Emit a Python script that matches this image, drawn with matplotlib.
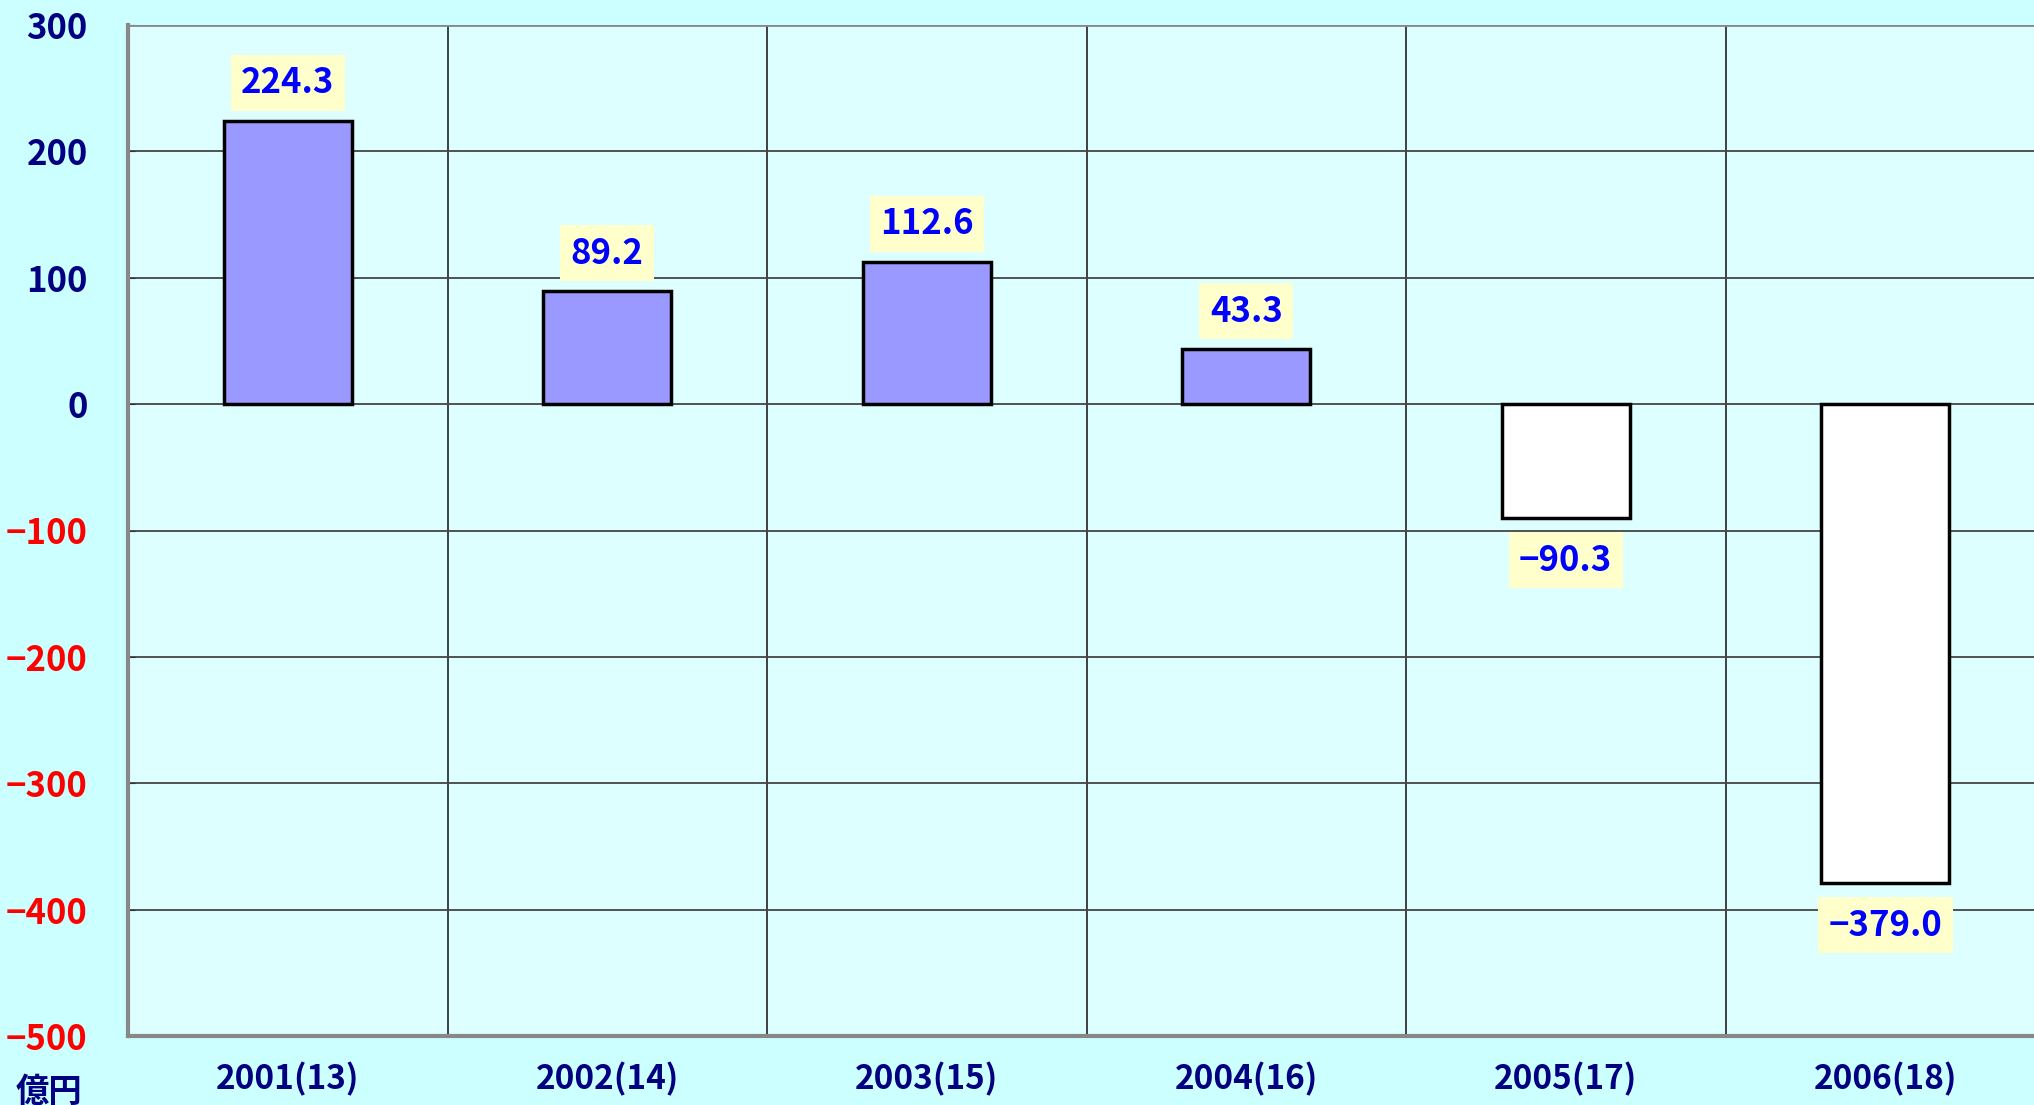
import matplotlib
matplotlib.use("Agg")
import matplotlib.pyplot as plt
import numpy as np

categories = ['2001(13)', '2002(14)', '2003(15)', '2004(16)', '2005(17)', '2006(18)']
values = [224.3, 89.2, 112.6, 43.3, -90.3, -379.0]
yticks = [300, 200, 100, 0, -100, -200, -300, -400, -500]
unit_label = '億円'

FONT = ['Liberation Sans Narrow', 'Noto Sans CJK JP', 'DejaVu Sans']
plt.rcParams['font.family'] = FONT

W, H = 2034, 1105
fig = plt.figure(figsize=(W / 100, H / 100), dpi=100, facecolor='#CCFFFF')
left, right, top, bottom = 128, 2045, 25, 1036
ax = fig.add_axes([left / W, 1 - bottom / H, (right - left) / W, (bottom - top) / H])
ax.set_facecolor('#DDFFFF')

x = np.arange(len(categories))
colors = ['#9999FF' if v >= 0 else '#FFFFFF' for v in values]
ax.bar(x, values, width=0.40, color=colors, edgecolor='black', linewidth=2.5, zorder=3)

ax.set_xlim(-0.5, len(categories) - 0.5)
ax.set_ylim(-500, 300)
ax.set_yticks(yticks)
ax.set_yticklabels([str(t).replace('-', '−') for t in yticks])
for lbl, t in zip(ax.get_yticklabels(), yticks):
    lbl.set_color('#FF0000' if t < 0 else '#000080')
    lbl.set_fontweight('bold')
    lbl.set_fontsize(25)
    lbl.set_family(FONT)

ax.set_xticks(x)
ax.set_xticklabels(categories, fontsize=24, fontweight='bold', color='#000080', family=FONT)
ax.set_xticks(np.arange(len(categories) + 1) - 0.5, minor=True)
ax.tick_params(axis='x', which='both', length=0, pad=19)
ax.tick_params(axis='y', which='major', length=5, direction='in', pad=29, color='#333333')

ax.grid(axis='y', which='major', color='#444444', linewidth=1.3, zorder=1)
ax.grid(axis='x', which='minor', color='#333333', linewidth=1.3, zorder=1)
ax.set_axisbelow(True)

for s in ['top', 'right']:
    ax.spines[s].set_visible(False)
for s in ['left', 'bottom']:
    ax.spines[s].set_color('#888888')
    ax.spines[s].set_linewidth(3)
ax.axhline(300, color='#888888', linewidth=2, zorder=2)

for xi, v in zip(x, values):
    txt = f"{v:.1f}".replace('-', '−')
    off = 38 if v >= 0 else -42
    ax.annotate(txt, (xi, v), xytext=(0, off * 0.72), textcoords='offset points',
                ha='center', va='center', fontsize=25, fontweight='bold', color='#0000FF',
                family=FONT, zorder=4,
                bbox=dict(boxstyle='square,pad=0.3', facecolor='#FFFFCC', edgecolor='none'))

fig.text(49 / W, 1 - 1092 / H, unit_label, ha='center', va='center', fontsize=24,
         fontweight='bold', color='#000080', family=['Noto Sans CJK JP', 'DejaVu Sans'])

fig.savefig('out.png', dpi=100, facecolor=fig.get_facecolor())
